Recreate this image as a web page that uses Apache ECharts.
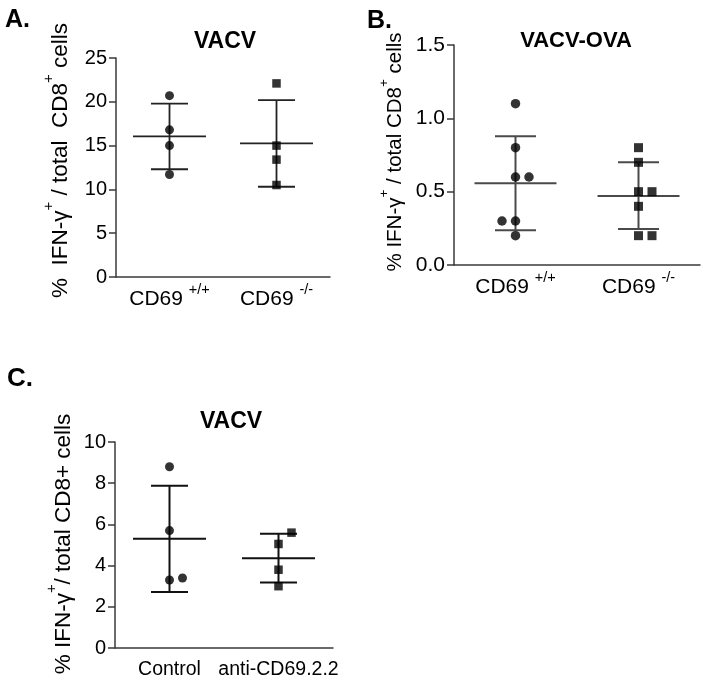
<!DOCTYPE html>
<html><head><meta charset="utf-8">
<script src="https://cdn.jsdelivr.net/npm/echarts@6/dist/echarts.min.js"></script>
<style>html,body{margin:0;padding:0;background:#fff}#c{width:706px;height:682px}</style>
</head><body><div id="c"></div>
<script>
// ---------- Panel A : VACV ----------
const catsA = ['CD69', 'CD69'];
const supA = ['+/+', '-/-'];
const wtA = [20.7, 16.8, 15.0, 11.7];
const wtAJitter = [0, 0, 0, 0];
const koA = [22.1, 15.0, 13.4, 10.5];
const koAJitter = [0, 0, 0, 0];
const meanA = [16.05, 15.25];
const sdLowA = [12.3, 10.3];
const sdHighA = [19.8, 20.2];
// ---------- Panel B : VACV-OVA ----------
const catsB = ['CD69', 'CD69'];
const supB = ['+/+', '-/-'];
const wtB = [1.1, 0.8, 0.6, 0.6, 0.3, 0.3, 0.2];
const wtBJitter = [0, 0, 0, 1, -1, 0, 0];
const koB = [0.8, 0.7, 0.5, 0.5, 0.4, 0.2, 0.2];
const koBJitter = [0, 0, 0, 1, 0, 0, 1];
const meanB = [0.557, 0.471];
const sdLowB = [0.237, 0.245];
const sdHighB = [0.878, 0.70];
// ---------- Panel C : VACV ----------
const catsC = ['Control', 'anti-CD69.2.2'];
const ctrlC = [8.8, 5.7, 3.3, 3.4];
const ctrlCJitter = [0, 0, 0, 1];
const antiC = [5.6, 5.05, 3.8, 3.0];
const antiCJitter = [1, 0, 0, 0];
const meanC = [5.3, 4.36];
const sdLowC = [2.72, 3.18];
const sdHighC = [7.88, 5.55];

const FONT = 'Liberation Sans, Arial, Helvetica, sans-serif';
const AX = '#3a3a3a';

const chart = echarts.init(document.getElementById('c'), null, {renderer: 'canvas'});

function pts(vals, cat, jit, shift) {
  return vals.map((v, i) => ({value: [cat, v], symbolOffset: [jit[i] * shift, 0]}));
}
function scatter(idx, vals, cat, jit, symbol, size, shift) {
  return {type: 'scatter', xAxisIndex: idx, yAxisIndex: idx, data: pts(vals, cat, jit, shift),
    symbol: symbol, symbolSize: size, itemStyle: {color: '#000'}, z: 5, silent: true};
}
function errBars(idx, means, lo, hi, meanHalf, capHalf, color, lw) {
  return {
    type: 'custom', xAxisIndex: idx, yAxisIndex: idx, z: 3, silent: true,
    data: means.map((m, i) => [i, m, lo[i], hi[i]]),
    renderItem(params, api) {
      const c = api.value(0);
      const pm = api.coord([c, api.value(1)]);
      const pl = api.coord([c, api.value(2)]);
      const ph = api.coord([c, api.value(3)]);
      const st = {stroke: color, lineWidth: lw, fill: null};
      return {type: 'group', children: [
        {type: 'line', shape: {x1: pl[0], y1: pl[1], x2: ph[0], y2: ph[1]}, style: st},
        {type: 'line', shape: {x1: pm[0] - meanHalf, y1: pm[1], x2: pm[0] + meanHalf, y2: pm[1]}, style: st},
        {type: 'line', shape: {x1: pl[0] - capHalf, y1: pl[1], x2: pl[0] + capHalf, y2: pl[1]}, style: st},
        {type: 'line', shape: {x1: ph[0] - capHalf, y1: ph[1], x2: ph[0] + capHalf, y2: ph[1]}, style: st}
      ]};
    }
  };
}
function xAx(idx, cats, sup, fs, margin) {
  return {
    type: 'category', gridIndex: idx, data: cats, boundaryGap: true,
    axisLine: {lineStyle: {color: AX, width: 1.5}},
    axisTick: {alignWithLabel: true, length: 7, lineStyle: {color: AX, width: 1.5}},
    axisLabel: {
      margin: margin, color: '#000', fontFamily: FONT, fontSize: fs, interval: 0,
      formatter: sup ? ((v, i) => '{m|' + v + '}{sp| }{s|' + sup[i] + '}') : undefined,
      rich: {
        m: {fontSize: fs, fontFamily: FONT, color: '#000', lineHeight: 28, verticalAlign: 'bottom'},
        sp: {fontSize: fs, fontFamily: FONT, color: '#000', lineHeight: 28, verticalAlign: 'bottom'},
        s: {fontSize: 14.5, fontFamily: FONT, color: '#000', lineHeight: 14, verticalAlign: 'top'}
      }
    },
    splitLine: {show: false}
  };
}
function yAx(idx, max, interval, fs, dec, name, nameFs, nameGap, namePad) {
  return {
    type: 'value', gridIndex: idx, min: 0, max: max, interval: interval,
    axisLine: {show: true, lineStyle: {color: AX, width: 1.5}},
    axisTick: {show: true, length: 7, lineStyle: {color: AX, width: 1.5}},
    axisLabel: {margin: 9, color: '#000', fontFamily: FONT, fontSize: fs,
      formatter: v => v.toFixed(dec)},
    splitLine: {show: false},
    name: name, nameLocation: 'middle', nameRotate: 90, nameGap: nameGap,
    nameTextStyle: {
      fontFamily: FONT, fontSize: nameFs, color: '#000', padding: namePad,
      rich: {
        n: {fontSize: nameFs, fontFamily: FONT, color: '#000', lineHeight: nameFs + 8, verticalAlign: 'bottom'},
        s: {fontSize: nameFs * 0.66, fontFamily: FONT, color: '#000', lineHeight: nameFs * 0.66, verticalAlign: 'top'}
      }
    }
  };
}
function ttl(text, left, top, fs, center) {
  const t = {text: text, left: left, top: top, padding: 0,
    textStyle: {fontFamily: FONT, fontSize: fs, fontWeight: 'bold', color: '#000'}};
  if (center) t.textAlign = 'center';
  return t;
}

const option = {
  backgroundColor: '#fff',
  animation: false,
  title: [
    ttl('A.', 5, 8, 25, false),
    ttl('B.', 367, 9, 25, false),
    ttl('C.', 7, 366, 26, false),
    ttl('VACV', 225, 30, 23, true),
    ttl('VACV-OVA', 576, 30, 22, true),
    ttl('VACV', 231, 410, 23, true)
  ],
  grid: [
    {left: 116, top: 58, width: 214, height: 219},
    {left: 454, top: 45, width: 246, height: 220},
    {left: 115, top: 442, width: 218, height: 206}
  ],
  xAxis: [xAx(0, catsA, supA, 21, 5), xAx(1, catsB, supB, 21, 5), xAx(2, catsC, null, 19.5, 12)],
  yAxis: [
    yAx(0, 25, 5, 20, 0, '{n|%  IFN-γ}{s|+}{n| / total  CD8}{s|+}{n| cells}', 22.5, 44, [0, 0, 0, 14]),
    yAx(1, 1.5, 0.5, 21, 1, '{n|% IFN-γ}{s|+}{n| / total CD8}{s|+}{n| cells}', 20.5, 48, [0, 0, 0, 6]),
    yAx(2, 10, 2, 20, 0, '{n|% IFN-γ}{s|+}{n|/ total CD8+ cells}', 22.5, 40, [0, 0, 0, 2])
  ],
  series: [
    errBars(0, meanA, sdLowA, sdHighA, 36.5, 18.5, '#222', 1.8),
    scatter(0, wtA, 0, wtAJitter, 'circle', 9, 13),
    scatter(0, koA, 1, koAJitter, 'rect', 8.5, 13),
    errBars(1, meanB, sdLowB, sdHighB, 41, 20.5, '#4a4a4a', 2),
    scatter(1, wtB, 0, wtBJitter, 'circle', 9.5, 13.5),
    scatter(1, koB, 1, koBJitter, 'rect', 9, 13.5),
    errBars(2, meanC, sdLowC, sdHighC, 36.5, 18.5, '#111', 2),
    scatter(2, ctrlC, 0, ctrlCJitter, 'circle', 9, 13),
    scatter(2, antiC, 1, antiCJitter, 'rect', 8.5, 13)
  ]
};
chart.setOption(option);
</script></body></html>
